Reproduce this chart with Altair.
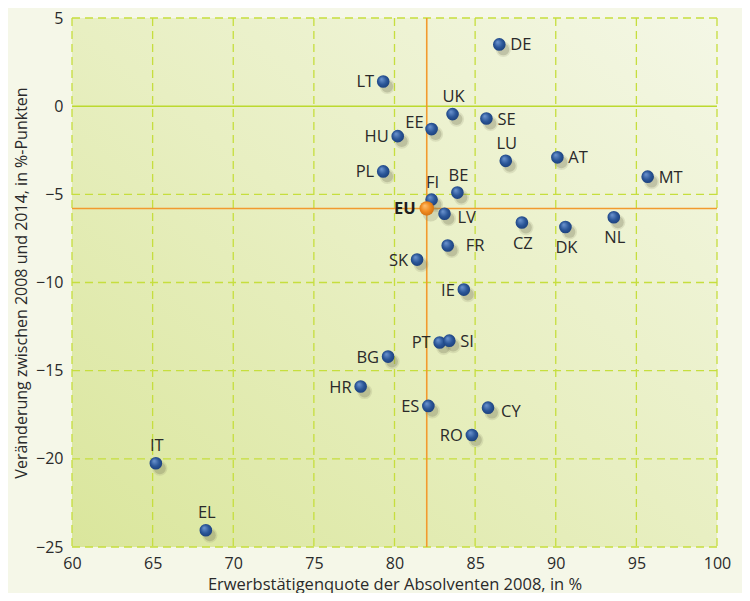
import altair as alt
import pandas as pd

countries = ["DE", "LT", "UK", "SE", "EE", "HU", "LU", "AT", "PL", "MT", "BE", "FI",
             "LV", "CZ", "DK", "NL", "FR", "SK", "IE", "PT", "SI", "BG", "HR", "ES",
             "CY", "RO", "IT", "EL"]
rate_2008 = [86.5, 79.3, 83.6, 85.7, 82.3, 80.2, 86.9, 90.1, 79.3, 95.7, 83.9, 82.3,
             83.1, 87.9, 90.6, 93.6, 83.3, 81.4, 84.3, 82.8, 83.4, 79.6, 77.9, 82.1,
             85.8, 84.8, 65.2, 68.3]
change = [3.5, 1.4, -0.45, -0.7, -1.3, -1.7, -3.1, -2.9, -3.7, -4.0, -4.9, -5.3,
          -6.1, -6.6, -6.85, -6.3, -7.9, -8.7, -10.4, -13.4, -13.3, -14.2, -15.9, -17.0,
          -17.1, -18.65, -20.25, -24.05]
placement = ["right", "left", "above", "right", "upleft", "left", "above", "right",
             "left", "right", "above", "above", "rightlow", "below", "below", "below",
             "farright", "left", "left", "left", "right", "left", "left", "left",
             "rightlow", "left", "above", "above"]

eu_label = ["EU"]
eu_rate = [82.0]
eu_change = [-5.8]

x_ticks = [60, 65, 70, 75, 80, 85, 90, 95, 100]
y_ticks = [5, 0, -5, -10, -15, -20, -25]

FONT = "Open Sans"

df = pd.DataFrame({"land": countries, "x": rate_2008, "y": change, "pos": placement})
eu = pd.DataFrame({"land": eu_label, "x": eu_rate, "y": eu_change})
zero = pd.DataFrame({"y": [0]})
one = pd.DataFrame({"a": [1]})
gx = pd.DataFrame({"x": x_ticks})
gy = pd.DataFrame({"y": [v for v in y_ticks if v != 0]})

xs = alt.Scale(domain=[60, 100], nice=False, zero=False)
ys = alt.Scale(domain=[-25, 5], nice=False, zero=False)

X = alt.X("x:Q", scale=xs, axis=alt.Axis(
    values=x_ticks, title="Erwerbstätigenquote der Absolventen 2008, in %",
    titleX=322.5, titleY=37, titleBaseline="middle", titleAlign="center", titleFontSize=16.5))
Y = alt.Y("y:Q", scale=ys, axis=alt.Axis(
    values=y_ticks, title="Veränderung zwischen 2008 und 2014, in %-Punkten",
    titleX=-51, titleY=264.5, titleAngle=270, titleBaseline="middle", titleAlign="center",
    titleFontSize=16))

blue = alt.Gradient(gradient="radial", x1=0.35, y1=0.3, r1=0, x2=0.5, y2=0.5, r2=0.6,
                    stops=[alt.GradientStop(offset=0, color="#6f97d2"),
                           alt.GradientStop(offset=0.55, color="#2b5698"),
                           alt.GradientStop(offset=1, color="#173a74")])
orange = alt.Gradient(gradient="radial", x1=0.35, y1=0.3, r1=0, x2=0.5, y2=0.5, r2=0.6,
                      stops=[alt.GradientStop(offset=0, color="#ffc070"),
                             alt.GradientStop(offset=0.55, color="#f08a1e"),
                             alt.GradientStop(offset=1, color="#c86a10")])
bg = alt.Gradient(gradient="linear", x1=0, y1=1, x2=1, y2=0,
                  stops=[alt.GradientStop(offset=0, color="#dae69c"),
                         alt.GradientStop(offset=0.5, color="#e8efc2"),
                         alt.GradientStop(offset=1, color="#f4f7e6")])

background = alt.Chart(one).mark_rect(color=bg).encode(
    x=alt.value(0), x2=alt.value("width"), y=alt.value(0), y2=alt.value("height"))

grid_style = dict(color="#c6de3e", strokeWidth=1.3, strokeDash=[8, 5])
grid_x = alt.Chart(gx).mark_rule(**grid_style).encode(x=X)
grid_y = alt.Chart(gy).mark_rule(**grid_style).encode(y=Y)

zero_rule = alt.Chart(zero).mark_rule(color="#bcd92e", strokeWidth=1.5).encode(y=Y)
eu_v = alt.Chart(eu).mark_rule(color="#f29a2e", strokeWidth=1.6).encode(x=X)
eu_h = alt.Chart(eu).mark_rule(color="#f29a2e", strokeWidth=1.6).encode(y=Y)

shadow1 = alt.Chart(df).mark_circle(size=230, color="#8a8a6a", opacity=0.18, xOffset=4, yOffset=5).encode(x=X, y=Y)
shadow2 = alt.Chart(df).mark_circle(size=140, color="#6a6a50", opacity=0.25, xOffset=4, yOffset=5).encode(x=X, y=Y)
eu_shadow = alt.Chart(eu).mark_circle(size=260, color="#8a8a6a", opacity=0.25, xOffset=4, yOffset=5).encode(x=X, y=Y)

points = alt.Chart(df).mark_circle(size=160, color=blue, opacity=1).encode(x=X, y=Y)
eu_point = alt.Chart(eu).mark_circle(size=210, color=orange, opacity=1).encode(x=X, y=Y)

offsets = {
    "right": dict(align="left", dx=11, dy=1),
    "left": dict(align="right", dx=-9, dy=1),
    "above": dict(align="center", dx=1, dy=-17),
    "below": dict(align="center", dx=1, dy=21),
    "upleft": dict(align="right", dx=-8, dy=-6),
    "rightlow": dict(align="left", dx=13, dy=4),
    "farright": dict(align="left", dx=18, dy=1),
}
label_layers = []
for key, o in offsets.items():
    label_layers.append(
        alt.Chart(df).transform_filter(alt.datum.pos == key).mark_text(
            font=FONT, fontSize=16.5, color="#2a2a2a", baseline="middle", **o
        ).encode(x=X, y=Y, text="land:N")
    )
eu_text = alt.Chart(eu).mark_text(font=FONT, fontSize=16.5, fontWeight="bold", color="#1e1e1e",
                                  align="right", dx=-11, dy=1, baseline="middle").encode(x=X, y=Y, text="land:N")

chart = alt.layer(
    background, grid_x, grid_y, zero_rule, eu_v, eu_h, shadow1, shadow2, points, eu_shadow, eu_point,
    *label_layers, eu_text
).properties(
    width=645, height=529,
    autosize=alt.AutoSizeParams(type="none"),
    padding={"left": 64, "top": 10, "right": 25, "bottom": 46},
    background="#f5f7e8",
).configure_view(
    stroke=None,
).configure_axis(
    domain=False, ticks=False, tickSize=0, grid=False, labelFlush=False,
    labelFont=FONT, labelFontSize=16, labelColor="#2a2a2a", labelPadding=9,
    titleFont=FONT, titleColor="#2a2a2a", titleFontWeight="normal",
).configure_axisX(labelPadding=8)

chart.save("out.html", embed_options={"renderer": "svg", "actions": False})
